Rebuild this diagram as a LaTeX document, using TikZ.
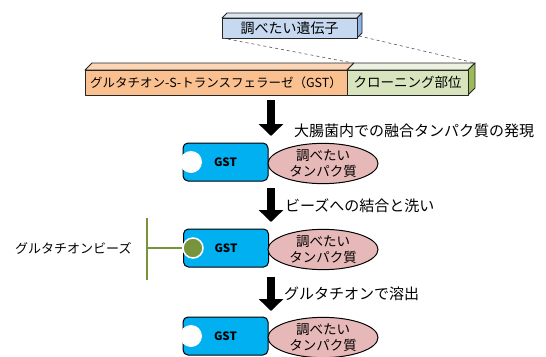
\documentclass[tikz,border=0pt]{standalone}
\usepackage{fontspec}
\setmainfont{Noto Sans CJK JP}
\usetikzlibrary{arrows.meta,shapes.geometric}
\definecolor{gstblue}{HTML}{00B0F0}
\definecolor{protpink}{HTML}{E6B9B8}
\definecolor{orfront}{HTML}{FAC090}
\definecolor{ortop}{HTML}{FCD5B5}
\definecolor{grfront}{HTML}{D7E4BD}
\definecolor{grtop}{HTML}{EBF1DE}
\definecolor{grside}{HTML}{9BBB59}
\definecolor{blfront}{HTML}{C6D9F1}
\definecolor{bltop}{HTML}{DCE6F2}
\definecolor{blside}{HTML}{8EB4E3}
\definecolor{beadgreen}{HTML}{77933C}
\definecolor{dashgrey}{HTML}{595959}
\tikzset{
  face/.style={draw=black!85, line width=0.9pt, line join=round},
  gstbox/.style={draw=black, line width=1pt, fill=gstblue, rounded corners=5pt,
    minimum width=85pt, minimum height=38pt, inner sep=0pt,
    font=\fontsize{11.5}{13}\bfseries},
  prot/.style={ellipse, draw=black, line width=1pt, fill=protpink,
    minimum width=110pt, minimum height=38pt, inner sep=0pt, align=center,
    font=\fontsize{13.5}{16.5}\selectfont},
  steplabel/.style={anchor=west, inner sep=0pt, font=\fontsize{15}{16}\selectfont},
  bigarrow/.style={line width=8pt, -{Triangle[width=24pt,length=12pt]}},
  dashline/.style={draw=dashgrey, dashed, line width=0.6pt},
  notch/.style={fill=white},
  beadline/.style={draw=beadgreen, line width=2.5pt},
}
\begin{document}
\begin{tikzpicture}[x=1pt,y=-1pt]
\useasboundingbox (0,0) rectangle (546,356);

% upper 3D box
\filldraw[face, fill=bltop] (222,18) -- (227,13) -- (362,13) -- (357,18) -- cycle;
\filldraw[face, fill=blside] (357,18) -- (362,13) -- (362,33) -- (357,38) -- cycle;
\filldraw[face, fill=blfront] (222,18) rectangle (357,38);
\node[inner sep=0pt, font=\fontsize{14}{15}\selectfont] (gene) at (289.5,28) {調べたい遺伝子};

% main 3D bar
\filldraw[face, fill=ortop] (85,70) -- (92,63) -- (354,63) -- (347,70) -- cycle;
\filldraw[face, fill=grtop] (347,70) -- (354,63) -- (475,63) -- (468,70) -- cycle;
\filldraw[face, fill=grside] (468,70) -- (475,63) -- (475,88) -- (468,95) -- cycle;
\filldraw[face, fill=orfront] (85,70) rectangle (347,95);
\filldraw[face, fill=grfront] (347,70) rectangle (468,95);
\node[inner sep=0pt, font=\fontsize{12.5}{14}\selectfont] (gstpart) at (216,82.5) {グルタチオン-S-トランスフェラーゼ（GST）};
\node[inner sep=0pt, font=\fontsize{13.5}{14}\selectfont] (clone) at (407.5,82.5) {クローニング部位};

% dashed zoom lines
\coordinate (gbl) at (222,38);
\coordinate (gbr) at (359,36);
\coordinate (mtj) at (353,63);
\coordinate (mtr) at (475,63);
\draw[dashline] (gbl) -- (mtj);
\draw[dashline] (gbr) -- (mtr);

% step 1
\coordinate (a1s) at (271,100);
\coordinate (a1e) at (271,136);
\draw[bigarrow] (a1s) -- (a1e);
\node[steplabel] (l1) at (294,131) {大腸菌内での融合タンパク質の発現};
\node[gstbox] (g1) at (225.5,162) {GST};
\fill[notch] (191,162) circle (11);
\node[prot] (p1) at (323,163.5) {調べたい\\タンパク質};

% step 2
\coordinate (a2s) at (271,188);
\coordinate (a2e) at (271,222);
\draw[bigarrow] (a2s) -- (a2e);
\node[steplabel] (l2) at (285,206) {ビーズへの結合と洗い};
\node[gstbox] (g2) at (226,248) {GST};
\node[prot] (p2) at (323,249.5) {調べたい\\タンパク質};
\coordinate (bt) at (147,218);
\coordinate (bb) at (147,280);
\coordinate (bm) at (147,248);
\draw[beadline] (bt) -- (bb);
\node[circle, fill=beadgreen, draw=white, line width=1.5pt, minimum size=20pt, inner sep=0pt] (bead) at (193,248) {};
\draw[beadline] (bm) -- (bead);
\node[anchor=west, inner sep=0pt, font=\fontsize{13}{14}\selectfont] (beadlab) at (15,248) {グルタチオンビーズ};

% step 3
\coordinate (a3s) at (271,277);
\coordinate (a3e) at (271,311);
\draw[bigarrow] (a3s) -- (a3e);
\node[steplabel] (l3) at (284,294) {グルタチオンで溶出};
\node[gstbox] (g3) at (225.5,336) {GST};
\fill[notch] (191,336) circle (11);
\node[prot] (p3) at (323,337.5) {調べたい\\タンパク質};
\end{tikzpicture}
\end{document}
